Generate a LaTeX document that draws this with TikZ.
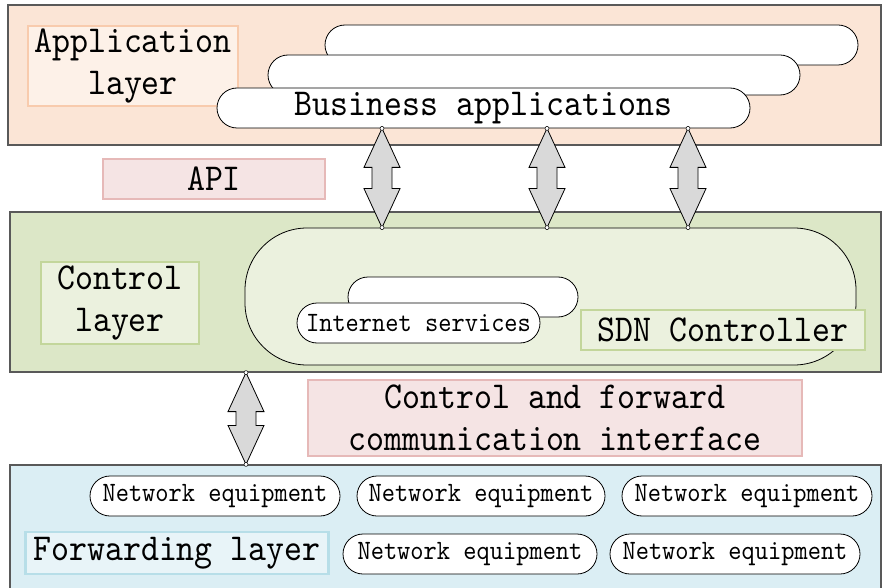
\documentclass[tikz,border=0pt]{standalone}
\usepackage{fontspec}
\newfontfamily\diafont[FakeStretch=0.9]{lmmono10-regular.otf}
\usepackage{tikz}
\usetikzlibrary{calc}

\definecolor{appfill}{HTML}{FBE5D6}
\definecolor{appline}{HTML}{F8CBAD}
\definecolor{applab}{HTML}{FDF1E8}
\definecolor{ifline}{HTML}{E6B9B8}
\definecolor{iffill}{HTML}{F5E4E4}
\definecolor{ctlfill}{HTML}{DCE7C7}
\definecolor{ctlline}{HTML}{C3D69B}
\definecolor{ctllab}{HTML}{EBF1DE}
\definecolor{fwdfill}{HTML}{DBEEF4}
\definecolor{fwdline}{HTML}{B7DEE8}
\definecolor{fwdlab}{HTML}{E8F4F8}
\definecolor{bandline}{HTML}{595959}
\definecolor{arrfill}{HTML}{D9D9D9}

\newcommand\bigtext{\diafont\fontsize{38}{42}\selectfont}
\newcommand\smalltext{\diafont\fontsize{28}{30}\selectfont}

% double arrow between two points, top to bottom
\newcommand\dblarrow[2]{%
  \draw[dbl] (#1) -- ($(#1)+(18,39)$) -- ($(#1)+(10,39)$) -- ($(#2)+(10,-39)$)
    -- ($(#2)+(18,-39)$) -- (#2) -- ($(#2)+(-18,-39)$) -- ($(#2)+(-10,-39)$)
    -- ($(#1)+(-10,39)$) -- ($(#1)+(-18,39)$) -- cycle;
  \draw[tipdot] (#1) circle[radius=2pt] (#2) circle[radius=2pt];}

\begin{document}
\begin{tikzpicture}[x=1pt,y=-1pt,
    band/.style={draw=bandline,line width=1.2pt,inner sep=0pt},
    laybox/.style={line width=2.5pt,inner sep=0pt,align=center,font=\bigtext},
    pill/.style={draw,fill=white,line width=0.8pt,rounded corners=20pt,minimum height=40pt,inner sep=0pt,font=\smalltext},
    dbl/.style={draw,fill=arrfill,line width=0.8pt,line join=miter},
    tipdot/.style={draw,fill=white,line width=0.5pt}]
  \useasboundingbox (0,0) rectangle (886,588);

  % application layer
  \node[band,fill=appfill,minimum width=873pt,minimum height=140pt] (appband) at (444.5,75) {};
  \node[laybox,draw=appline,fill=applab,minimum width=210pt,minimum height=80pt] (applab) at (133,66) {Application\\layer};
  \node[pill,minimum width=533pt] (ba3) at (591.5,45) {};
  \node[pill,minimum width=532pt] (ba2) at (534,75) {};
  \node[pill,minimum width=533pt,font=\bigtext] (ba) at (483.5,108) {Business applications};

  \node[laybox,draw=ifline,fill=iffill,minimum width=222pt,minimum height=40pt] (api) at (214,179) {API};

  % control layer
  \node[band,fill=ctlfill,minimum width=871pt,minimum height=160pt] (ctlband) at (445.5,292) {};
  \node[draw,fill=ctllab,line width=0.8pt,rounded corners=62pt,minimum width=611pt,minimum height=137pt] (sdn) at (550.5,296.5) {};
  \node[laybox,draw=ctlline,fill=ctllab,minimum width=158pt,minimum height=82pt] (ctllab) at (120,303) {Control\\layer};
  \node[pill,minimum width=230pt] (is2) at (463,297) {};
  \node[pill,minimum width=243pt] (is) at (418.5,323) {Internet services};
  \node[laybox,draw=ctlline,fill=ctllab,minimum width=284pt,minimum height=40pt] (sdnlab) at (723,330) {SDN Controller};

  \node[laybox,draw=ifline,fill=iffill,minimum width=494pt,minimum height=76pt] (cfi) at (555,418) {Control and forward\\communication interface};

  % forwarding layer
  \node[band,fill=fwdfill,minimum width=871pt,minimum height=140pt] (fwdband) at (445.5,535) {};
  \node[pill,minimum width=250pt] (ne1) at (215,496) {Network equipment};
  \node[pill,minimum width=248pt] (ne2) at (481,496) {Network equipment};
  \node[pill,minimum width=250pt] (ne3) at (747,496) {Network equipment};
  \node[pill,minimum width=254pt] (ne4) at (470,554) {Network equipment};
  \node[pill,minimum width=250pt] (ne5) at (735,554) {Network equipment};
  \node[laybox,draw=fwdline,fill=fwdlab,minimum width=303pt,minimum height=42pt] (fwdlab) at (177,553) {Forwarding layer};

  % interfaces
  \coordinate (up1) at (382,0 |- ba.south);
  \coordinate (up2) at (547,0 |- ba.south);
  \coordinate (up3) at (688,0 |- ba.south);
  \coordinate (dn1) at (382,0 |- sdn.north);
  \coordinate (dn2) at (547,0 |- sdn.north);
  \coordinate (dn3) at (688,0 |- sdn.north);
  \dblarrow{up1}{dn1}
  \dblarrow{up2}{dn2}
  \dblarrow{up3}{dn3}
  \coordinate (cf1) at (246,0 |- ctlband.south);
  \coordinate (cf2) at (246,0 |- fwdband.north);
  \dblarrow{cf1}{cf2}
\end{tikzpicture}
\end{document}
